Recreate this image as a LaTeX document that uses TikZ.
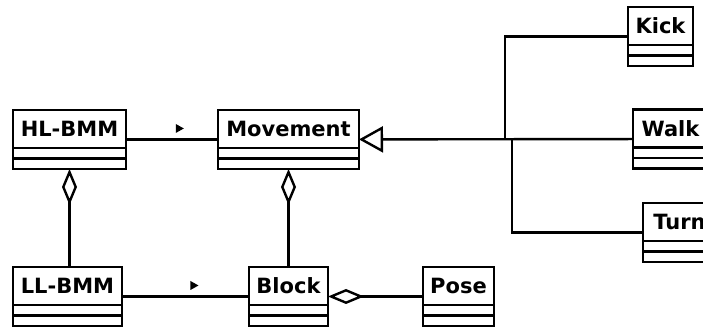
\documentclass[tikz,border=0pt]{standalone}
\usepackage{fontspec}
\setsansfont{DejaVu Sans}
\usepackage{tikz}
\usetikzlibrary{positioning, arrows.meta, shapes.geometric}

% class box: name, x, y (north west), width, title
\newcommand{\umlclass}[5]{%
  \node[classbox, minimum width=#4pt, anchor=north west] (#1) at (#2, #3) {};
  \node[classname, minimum width=#4pt, anchor=north] (#1-name) at (#1.north) {#5};
  \draw[thick line] ([yshift=-48.5pt]#1.north west) -- ([yshift=-48.5pt]#1.north east);
}

\begin{document}
\begin{tikzpicture}[
  x=1pt, y=1pt,
  thick line/.style={line width=2.4pt},
  classbox/.style={rectangle, draw, line width=2.4pt, minimum height=59pt,
    inner sep=0pt, outer sep=0pt},
  classname/.style={rectangle, draw, line width=2.4pt, minimum height=38pt,
    inner sep=0pt, outer sep=0pt,
    font=\sffamily\bfseries\fontsize{21}{25}\selectfont},
  assoc/.style={line width=2.4pt},
  dirmark/.style={isosceles triangle, isosceles triangle stretches, fill=black,
    inner sep=0pt, minimum width=9pt, minimum height=8pt},
  aggr/.style={line width=2.4pt, -{Diamond[open, length=36pt, width=15pt]}},
  inherit/.style={line width=2.4pt, -{Triangle[open, length=24pt, width=26pt]}},
]
\useasboundingbox (0, 0) rectangle (703, 331);
\clip (0, 0) rectangle (703, 331);

% --- Classes ---
\umlclass{hl}{13}{221}{113}{HL-BMM}
\umlclass{mov}{218}{221}{141}{Movement}
\umlclass{kick}{628}{324}{65}{Kick}
\umlclass{walk}{633}{221.5}{75}{Walk}
\umlclass{turn}{643}{128}{73}{Turn}
\umlclass{ll}{13}{64}{109}{LL-BMM}
\umlclass{block}{249}{64}{79}{Block}
\umlclass{pose}{423}{64}{71}{Pose}

% --- Associations ---
\draw[assoc] (hl) -- node[dirmark, pos=0.57, above=6.5pt] (hlmark) {} (mov);
\draw[assoc] (ll) -- node[dirmark, pos=0.56, above=6.5pt] (llmark) {} (block);

% --- Generalization ---
\coordinate (gen) at (505, 192);
\draw[inherit] (walk) -- (mov);
\draw[thick line] (gen) |- (kick);
\draw[thick line] ([xshift=7pt]gen) |- (turn);

% --- Aggregations ---
\draw[aggr] (hl.south |- ll.north) -- (hl);
\draw[aggr] (block) -- (mov);
\draw[aggr] (pose) -- (block);

\end{tikzpicture}
\end{document}
